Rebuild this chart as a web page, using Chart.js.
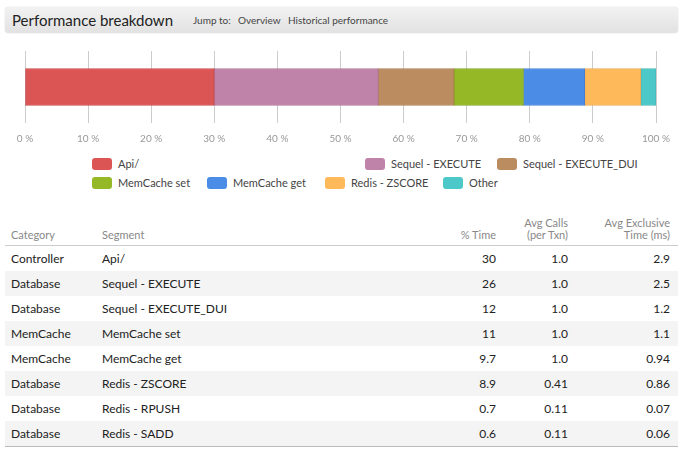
<!DOCTYPE html>
<html>
<head>
<meta charset="utf-8">
<script src="https://cdn.jsdelivr.net/npm/chart.js@4"></script>
<style>
  html, body { margin:0; padding:0; background:#fff; }
  body { width:683px; height:454px; position:relative; overflow:hidden; font-family: Lato, "Open Sans", sans-serif; color:#333; }
  #hdr { position:absolute; left:5px; top:7px; width:673px; height:26px; border-radius:4px;
         background:linear-gradient(#f2f2f2,#e2e2e2); box-shadow:0 0 1px rgba(0,0,0,0.35); }
  #hdr .title { position:absolute; left:7px; top:4px; font-size:15px; color:#222; }
  #hdr .jump { position:absolute; top:7px; font-size:10px; color:#444; }
  #chartWrap { position:absolute; left:0; top:40px; width:683px; height:115px; }
  #legend { position:absolute; left:0; top:0; width:683px; height:0; }
  .li { position:absolute; font-size:11px; color:#444; white-space:nowrap; line-height:12px; }
  .sw { position:absolute; left:0; top:0; width:20px; height:12px; border-radius:3px; }
  .li span.t { position:absolute; left:26px; top:0; }
  table { position:absolute; left:5px; top:209px; width:673px; border-collapse:collapse; }
  th { font-weight:normal; font-size:11px; color:#888; height:32px; vertical-align:bottom; padding:0 0 4px 0; line-height:12px; border-bottom:1px solid #ccc; }
  td { font-size:12px; color:#222; height:25px; padding:0; }
  tbody tr:nth-child(even) td { background:#f4f4f4; }
  tbody tr:last-child td { border-bottom:1px solid #bbb; }
  .l1 { text-align:left; padding-left:6px; width:91px; }
  .l2 { text-align:left; }
  .r { text-align:right; }
</style>
</head>
<body>
<div id="hdr">
  <div class="title">Performance breakdown</div>
  <div class="jump" style="left:188px;">Jump to:</div>
  <div class="jump" style="left:233px;">Overview</div>
  <div class="jump" style="left:283px;">Historical performance</div>
</div>
<div id="chartWrap"><canvas id="c" width="683" height="115"></canvas></div>
<div id="legend"></div>
<table id="tbl">
  <thead><tr>
    <th class="l1" style="text-align:left;padding-left:6px;">Category</th>
    <th class="l2" style="text-align:left;">Segment</th>
    <th class="r" style="width:80px;">% Time</th>
    <th class="r" style="width:72px;">Avg Calls<br>(per Txn)</th>
    <th class="r" style="width:102px;padding-right:8px;">Avg Exclusive<br>Time (ms)</th>
  </tr></thead>
  <tbody></tbody>
</table>
<script>
// ---- chart data ----
const segments = ['Api/', 'Sequel - EXECUTE', 'Sequel - EXECUTE_DUI', 'MemCache set', 'MemCache get', 'Redis - ZSCORE', 'Other'];
const shares = [30, 26, 12, 11, 9.7, 8.9, 2.4];
const segmentColors = ['#dc5555', '#bf82a8', '#bb8c60', '#95b827', '#4b8de6', '#feb95b', '#4cc8c8'];
const segmentBorders = ['#c84a4a', '#b0769a', '#ab7f55', '#86a720', '#4580d4', '#ecaa52', '#44b6b6'];
const tickValues = [0, 10, 20, 30, 40, 50, 60, 70, 80, 90, 100];

// ---- table data ----
const tableCategories = ['Controller', 'Database', 'Database', 'MemCache', 'MemCache', 'Database', 'Database', 'Database'];
const tableSegments = ['Api/', 'Sequel - EXECUTE', 'Sequel - EXECUTE_DUI', 'MemCache set', 'MemCache get', 'Redis - ZSCORE', 'Redis - RPUSH', 'Redis - SADD'];
const pctTime = ['30', '26', '12', '11', '9.7', '8.9', '0.7', '0.6'];
const avgCalls = ['1.0', '1.0', '1.0', '1.0', '1.0', '0.41', '0.11', '0.11'];
const avgExclusive = ['2.9', '2.5', '1.2', '1.1', '0.94', '0.86', '0.07', '0.06'];

// legend placement (layout only)
const legendPos = [[92,158],[365,158],[497,158],[92,177],[207,177],[325,177],[443,177]];

const datasets = segments.map((s, i) => ({
  label: s,
  data: [shares[i]],
  backgroundColor: segmentColors[i],
  borderColor: segmentBorders[i],
  borderWidth: 1,
  borderSkipped: false,
  barThickness: 37
}));

new Chart(document.getElementById('c'), {
  type: 'bar',
  data: { labels: [''], datasets },
  options: {
    indexAxis: 'y',
    responsive: false,
    animation: false,
    layout: { padding: { left: 25, right: 27, top: 11, bottom: 0 } },
    plugins: { legend: { display: false }, tooltip: { enabled: false } },
    scales: {
      x: {
        stacked: true, min: 0, max: 100,
        afterBuildTicks: (s) => { s.ticks = tickValues.map(v => ({ value: v })); },
        afterFit: (s) => { s.paddingLeft = 0; s.paddingRight = 0; s.height = 32; },
        border: { display: false },
        grid: { color: '#cccccc', drawTicks: false, lineWidth: 1 },
        ticks: { padding: 10, color: '#999', font: { family: 'Lato', size: 10 }, callback: v => v + ' %', maxRotation: 0, autoSkip: false }
      },
      y: { stacked: true, display: false }
    }
  }
});

// HTML legend
const lg = document.getElementById('legend');
segments.forEach((s, i) => {
  const d = document.createElement('div');
  d.className = 'li';
  d.style.left = legendPos[i][0] + 'px';
  d.style.top = legendPos[i][1] + 'px';
  d.innerHTML = '<div class="sw" style="background:' + segmentColors[i] + '"></div><span class="t"></span>';
  d.querySelector('.t').textContent = s;
  lg.appendChild(d);
});

// table
const tb = document.querySelector('#tbl tbody');
tableCategories.forEach((c, i) => {
  const tr = document.createElement('tr');
  const cells = [[c, 'l1'], [tableSegments[i], 'l2'], [pctTime[i], 'r'], [avgCalls[i], 'r'], [avgExclusive[i], 'r']];
  cells.forEach(([t, cls], j) => {
    const td = document.createElement('td');
    td.className = cls;
    if (j === 4) td.style.paddingRight = '8px';
    td.textContent = t;
    tr.appendChild(td);
  });
  tb.appendChild(tr);
});
</script>
</body>
</html>
